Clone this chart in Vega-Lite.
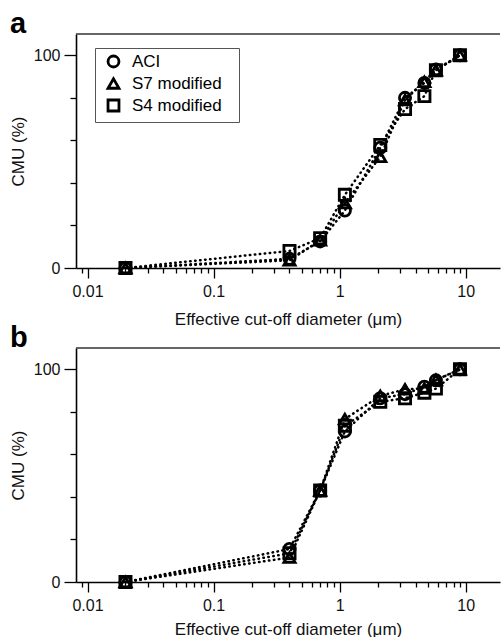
{
  "$schema": "https://vega.github.io/schema/vega-lite/v6.json",
  "background": "white",
  "padding": {"left": 9, "top": 10, "right": 0, "bottom": 0},
  "datasets": {
    "cmu": [
      {"panel": "a", "series": "ACI", "d": 0.02, "cmu": 0},
      {"panel": "a", "series": "ACI", "d": 0.4, "cmu": 4.3},
      {"panel": "a", "series": "ACI", "d": 0.7, "cmu": 12.5},
      {"panel": "a", "series": "ACI", "d": 1.1, "cmu": 27},
      {"panel": "a", "series": "ACI", "d": 2.1, "cmu": 56.5},
      {"panel": "a", "series": "ACI", "d": 3.3, "cmu": 80},
      {"panel": "a", "series": "ACI", "d": 4.7, "cmu": 87},
      {"panel": "a", "series": "ACI", "d": 5.8, "cmu": 93.3},
      {"panel": "a", "series": "ACI", "d": 9.0, "cmu": 100},
      {"panel": "a", "series": "S7 modified", "d": 0.02, "cmu": 0},
      {"panel": "a", "series": "S7 modified", "d": 0.4, "cmu": 3.6},
      {"panel": "a", "series": "S7 modified", "d": 0.7, "cmu": 13},
      {"panel": "a", "series": "S7 modified", "d": 1.1, "cmu": 30.5},
      {"panel": "a", "series": "S7 modified", "d": 2.1, "cmu": 52.3},
      {"panel": "a", "series": "S7 modified", "d": 3.3, "cmu": 79},
      {"panel": "a", "series": "S7 modified", "d": 4.7, "cmu": 87.5},
      {"panel": "a", "series": "S7 modified", "d": 5.8, "cmu": 93},
      {"panel": "a", "series": "S7 modified", "d": 9.0, "cmu": 100},
      {"panel": "a", "series": "S4 modified", "d": 0.02, "cmu": 0},
      {"panel": "a", "series": "S4 modified", "d": 0.4, "cmu": 8},
      {"panel": "a", "series": "S4 modified", "d": 0.7, "cmu": 14},
      {"panel": "a", "series": "S4 modified", "d": 1.1, "cmu": 34.4},
      {"panel": "a", "series": "S4 modified", "d": 2.1, "cmu": 57.8},
      {"panel": "a", "series": "S4 modified", "d": 3.3, "cmu": 74.7},
      {"panel": "a", "series": "S4 modified", "d": 4.7, "cmu": 80.8},
      {"panel": "a", "series": "S4 modified", "d": 5.8, "cmu": 93},
      {"panel": "a", "series": "S4 modified", "d": 9.0, "cmu": 100},
      {"panel": "b", "series": "ACI", "d": 0.02, "cmu": 0},
      {"panel": "b", "series": "ACI", "d": 0.4, "cmu": 15.5},
      {"panel": "b", "series": "ACI", "d": 0.7, "cmu": 43},
      {"panel": "b", "series": "ACI", "d": 1.1, "cmu": 70.8},
      {"panel": "b", "series": "ACI", "d": 2.1, "cmu": 86.4},
      {"panel": "b", "series": "ACI", "d": 3.3, "cmu": 88.3},
      {"panel": "b", "series": "ACI", "d": 4.7, "cmu": 91.8},
      {"panel": "b", "series": "ACI", "d": 5.8, "cmu": 94.8},
      {"panel": "b", "series": "ACI", "d": 9.0, "cmu": 100},
      {"panel": "b", "series": "S7 modified", "d": 0.02, "cmu": 0},
      {"panel": "b", "series": "S7 modified", "d": 0.4, "cmu": 11.5},
      {"panel": "b", "series": "S7 modified", "d": 0.7, "cmu": 43},
      {"panel": "b", "series": "S7 modified", "d": 1.1, "cmu": 76.6},
      {"panel": "b", "series": "S7 modified", "d": 2.1, "cmu": 87.5},
      {"panel": "b", "series": "S7 modified", "d": 3.3, "cmu": 90.6},
      {"panel": "b", "series": "S7 modified", "d": 4.7, "cmu": 91},
      {"panel": "b", "series": "S7 modified", "d": 5.8, "cmu": 95},
      {"panel": "b", "series": "S7 modified", "d": 9.0, "cmu": 100},
      {"panel": "b", "series": "S4 modified", "d": 0.02, "cmu": 0},
      {"panel": "b", "series": "S4 modified", "d": 0.4, "cmu": 13.5},
      {"panel": "b", "series": "S4 modified", "d": 0.7, "cmu": 43},
      {"panel": "b", "series": "S4 modified", "d": 1.1, "cmu": 73.4},
      {"panel": "b", "series": "S4 modified", "d": 2.1, "cmu": 84.7},
      {"panel": "b", "series": "S4 modified", "d": 3.3, "cmu": 86.4},
      {"panel": "b", "series": "S4 modified", "d": 4.7, "cmu": 89},
      {"panel": "b", "series": "S4 modified", "d": 5.8, "cmu": 90.9},
      {"panel": "b", "series": "S4 modified", "d": 9.0, "cmu": 100}
    ]
  },
  "spacing": 80,
  "bounds": "flush",
  "vconcat": [
    {
      "title": {"text": "a", "anchor": "start", "frame": "group", "dx": -66, "offset": -29, "fontSize": 29, "fontWeight": "bold", "font": "Liberation Sans", "color": "black", "baseline": "alphabetic"},
      "width": 424,
      "height": 234,
      "layer": [
        {
          "data": {"name": "cmu"},
          "transform": [{"filter": "datum.panel === 'a'"}],
          "mark": {"type": "line", "color": "black", "strokeWidth": 2.5, "strokeDash": [0.5, 4.5], "strokeCap": "round"},
          "encoding": {
            "x": {"field": "d", "type": "quantitative", "scale": {"type": "log", "domain": [0.0081, 18.7], "nice": false},
              "axis": {"title": "Effective cut-off diameter (\u03bcm)",
                "values": [0.009, 0.01, 0.02, 0.03, 0.04, 0.05, 0.06, 0.07, 0.08, 0.09, 0.1, 0.2, 0.3, 0.4, 0.5, 0.6, 0.7, 0.8, 0.9, 1, 2, 3, 4, 5, 6, 7, 8, 9, 10],
                "labelExpr": "indexof([0.01, 0.1, 1, 10], datum.value) >= 0 ? format(datum.value, '~g') : ''",
                "tickSize": {"condition": {"test": "indexof([0.01, 0.1, 1, 10], datum.value) >= 0", "value": 10}, "value": 5},
                "labelPadding": 5, "titlePadding": 12, "labelFlush": false, "labelOverlap": false}},
            "y": {"field": "cmu", "type": "quantitative", "scale": {"domain": [0, 110], "nice": false},
              "axis": {"title": "CMU (%)",
                "values": [0, 10, 20, 30, 40, 50, 60, 70, 80, 90, 100],
                "labelExpr": "datum.value % 50 === 0 ? format(datum.value, 'd') : ''",
                "tickSize": {"condition": {"test": "datum.value % 50 === 0", "value": 12}, "value": 6},
                "labelPadding": 4, "titlePadding": 6, "labelOverlap": false}},
            "detail": {"field": "series"}
          }
        },
        {
          "data": {"values": [{}]},
          "mark": {"type": "rule", "color": "#333", "strokeWidth": 1.5},
          "encoding": {"y": {"datum": 110, "type": "quantitative"}}
        },
        {
          "data": {"name": "cmu"},
          "transform": [{"filter": "datum.panel === 'a'"}],
          "mark": {"type": "point", "filled": false, "color": "black", "strokeWidth": 2.8, "opacity": 1, "size": 125},
          "encoding": {
            "x": {"field": "d", "type": "quantitative"},
            "y": {"field": "cmu", "type": "quantitative"},
            "shape": {"field": "series", "type": "nominal", "scale": {"domain": ["ACI", "S7 modified", "S4 modified"], "range": ["circle", "triangle-up", "square"]},
              "legend": {"title": null, "orient": "none", "legendX": 19, "legendY": 14, "padding": 5, "symbolOffset": 5, "labelOffset": 10, "rowPadding": 0, "labelFont": "Liberation Sans", "labelFontSize": 17, "labelColor": "black", "strokeColor": "#555", "fillColor": "white", "symbolStrokeColor": "black", "symbolStrokeWidth": 2.8, "symbolSize": 120, "labelExpr": "datum.label + '\u2800'"}}
          }
        }
      ]
    },
    {
      "title": {"text": "b", "anchor": "start", "frame": "group", "dx": -66, "offset": -29, "fontSize": 29, "fontWeight": "bold", "font": "Liberation Sans", "color": "black", "baseline": "alphabetic"},
      "width": 424,
      "height": 234,
      "layer": [
        {
          "data": {"name": "cmu"},
          "transform": [{"filter": "datum.panel === 'b'"}],
          "mark": {"type": "line", "color": "black", "strokeWidth": 2.5, "strokeDash": [0.5, 4.5], "strokeCap": "round"},
          "encoding": {
            "x": {"field": "d", "type": "quantitative", "scale": {"type": "log", "domain": [0.0081, 18.7], "nice": false},
              "axis": {"title": "Effective cut-off diameter (\u03bcm)",
                "values": [0.009, 0.01, 0.02, 0.03, 0.04, 0.05, 0.06, 0.07, 0.08, 0.09, 0.1, 0.2, 0.3, 0.4, 0.5, 0.6, 0.7, 0.8, 0.9, 1, 2, 3, 4, 5, 6, 7, 8, 9, 10],
                "labelExpr": "indexof([0.01, 0.1, 1, 10], datum.value) >= 0 ? format(datum.value, '~g') : ''",
                "tickSize": {"condition": {"test": "indexof([0.01, 0.1, 1, 10], datum.value) >= 0", "value": 10}, "value": 5},
                "labelPadding": 5, "titlePadding": 8, "labelFlush": false, "labelOverlap": false}},
            "y": {"field": "cmu", "type": "quantitative", "scale": {"domain": [0, 110], "nice": false},
              "axis": {"title": "CMU (%)",
                "values": [0, 10, 20, 30, 40, 50, 60, 70, 80, 90, 100],
                "labelExpr": "datum.value % 50 === 0 ? format(datum.value, 'd') : ''",
                "tickSize": {"condition": {"test": "datum.value % 50 === 0", "value": 12}, "value": 6},
                "labelPadding": 4, "titlePadding": 6, "labelOverlap": false}},
            "detail": {"field": "series"}
          }
        },
        {
          "data": {"values": [{}]},
          "mark": {"type": "rule", "color": "#333", "strokeWidth": 1.5},
          "encoding": {"y": {"datum": 110, "type": "quantitative"}}
        },
        {
          "data": {"name": "cmu"},
          "transform": [{"filter": "datum.panel === 'b'"}],
          "mark": {"type": "point", "filled": false, "color": "black", "strokeWidth": 2.8, "opacity": 1, "size": 125},
          "encoding": {
            "x": {"field": "d", "type": "quantitative"},
            "y": {"field": "cmu", "type": "quantitative"},
            "shape": {"field": "series", "type": "nominal", "scale": {"domain": ["ACI", "S7 modified", "S4 modified"], "range": ["circle", "triangle-up", "square"]},
              "legend": {"title": null, "orient": "none", "legendX": 19, "legendY": 14, "padding": 5, "symbolOffset": 5, "labelOffset": 10, "rowPadding": 0, "labelFont": "Liberation Sans", "labelFontSize": 17, "labelColor": "black", "strokeColor": "#555", "fillColor": "white", "symbolStrokeColor": "black", "symbolStrokeWidth": 2.8, "symbolSize": 120, "labelExpr": "datum.label + '\u2800'"}}
          }
        }
      ]
    }
  ],
  "config": {
    "view": {"stroke": null},
    "font": "Liberation Sans",
    "axis": {"grid": false, "domainColor": "black", "domainWidth": 1.6, "tickColor": "black", "tickWidth": 1.3, "labelFont": "Liberation Sans", "labelFontSize": 16, "labelColor": "#111", "titleFont": "Liberation Sans", "titleFontSize": 17, "titleFontWeight": "normal", "titleColor": "#111"}
  }
}
